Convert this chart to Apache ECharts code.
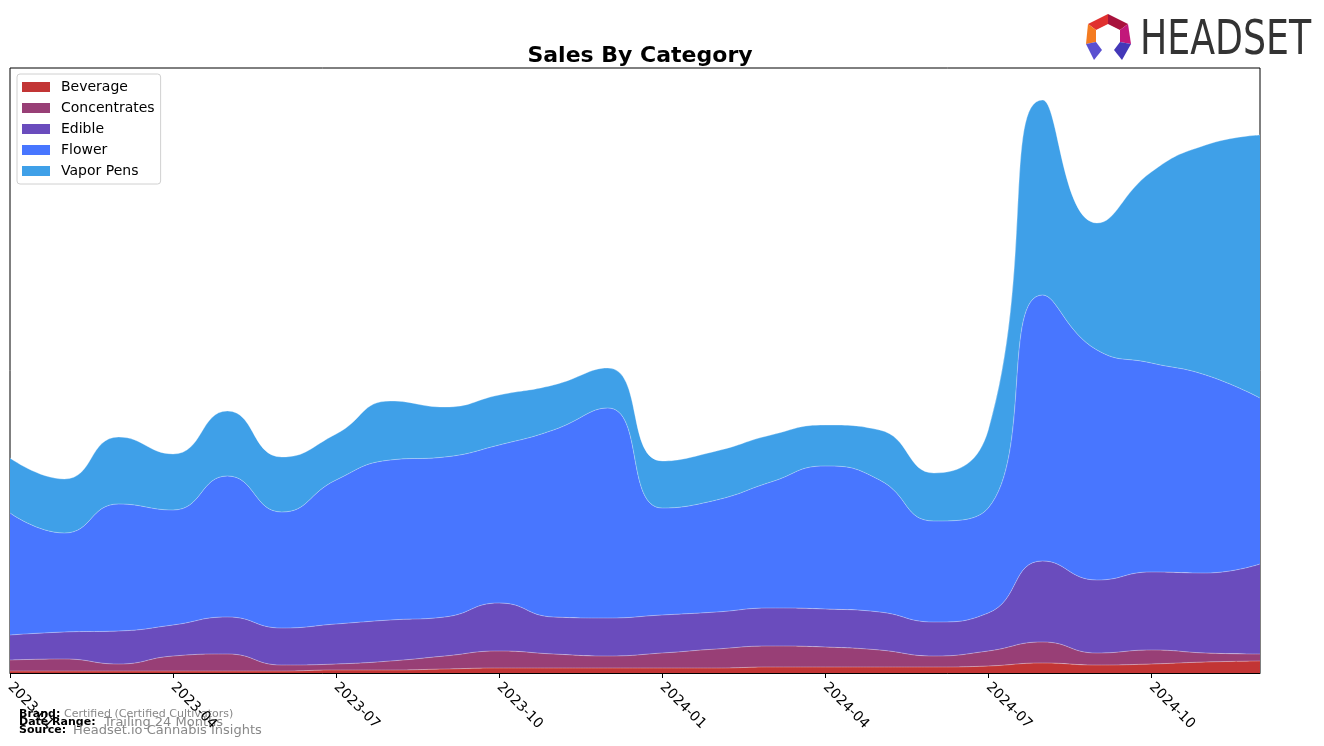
<!DOCTYPE html>
<html>
<head>
<meta charset="utf-8">
<script src="https://cdn.jsdelivr.net/npm/echarts@6/dist/echarts.min.js"></script>
<style>
html,body{margin:0;padding:0;background:#fff;}
#chart{width:1324px;height:746px;}
</style>
</head>
<body>
<div id="chart"></div>
<script>
const months = ['2023-01','2023-02','2023-03','2023-04','2023-05','2023-06','2023-07','2023-08','2023-09','2023-10','2023-11','2023-12',
                '2024-01','2024-02','2024-03','2024-04','2024-05','2024-06','2024-07','2024-08','2024-09','2024-10','2024-11','2024-12'];
const tickLabels = ['2023-01','2023-04','2023-07','2023-10','2024-01','2024-04','2024-07','2024-10'];
const categories = ['Beverage','Concentrates','Edible','Flower','Vapor Pens'];
const beverage     = [2,2,2,2,2,2,3,3,4,5,5,5,5,5,6,6,6,6,7,10,8,9,11,12];
const concentrates = [11,12,7,15,17,6,6,9,13,17,14,12,15,19,21,20,17,11,15,21,12,14,9,7];
const edible       = [25,27,33,31,37,37,40,41,39,48,37,38,38,37,38,38,38,34,38,81,73,78,80,90];
const flower       = [122,99,127,115,141,116,144,160,160,158,187,210,107,112,126,143,132,101,105,266,230,209,198,166];
const vaporPens    = [55,54,67,56,65,55,46,59,50,50,45,40,47,49,47,41,50,48,78,195,127,191,230,263];
const colors = ['#c23535','#983f76','#6a4cbd','#4876ff','#3fa0e8'];

const seriesData = [beverage, concentrates, edible, flower, vaporPens];

const chart = echarts.init(document.getElementById('chart'), null, {renderer:'canvas'});
const option = {
  animation:false,
  backgroundColor:'#fff',
  title:{
    text:'Sales By Category', left:635, top:40, textAlign:'center',
    textStyle:{fontFamily:'DejaVu Sans', fontSize:22, fontWeight:'bold', color:'#000'}
  },
  legend:{
    orient:'vertical', left:17, top:74,
    data:categories,
    icon:'rect', itemWidth:28, itemHeight:10, itemGap:7,
    backgroundColor:'#fff', borderColor:'#d0d0d0', borderWidth:1, borderRadius:3,
    padding:[6,6,6,5],
    textStyle:{fontFamily:'DejaVu Sans', fontSize:14, color:'#000', padding:[0,0,0,6]}
  },
  grid:{left:10, right:64, top:68, bottom:73, show:true, borderColor:'#000', borderWidth:1, backgroundColor:'transparent'},
  xAxis:{
    type:'category', data:months, boundaryGap:false,
    axisLine:{show:true, lineStyle:{color:'#000'}},
    axisTick:{show:true, length:5, lineStyle:{color:'#000'}, interval:(i,v)=>tickLabels.indexOf(v)>=0},
    axisLabel:{
      rotate:-45, interval:(i,v)=>tickLabels.indexOf(v)>=0, margin:12,
      fontFamily:'DejaVu Sans', fontSize:14, color:'#000'
    },
    splitLine:{show:false}
  },
  yAxis:{type:'value', min:0, max:605, show:false, splitLine:{show:false}},
  series: categories.map((name,i)=>({
    name:name, type:'line', stack:'total', smooth:0.5, symbol:'none',
    data:seriesData[i],
    itemStyle:{color:colors[i]},
    lineStyle:{width:1, color:'rgba(255,255,255,0.3)'},
    areaStyle:{color:colors[i], opacity:1}
  })),
  graphic:[
    {type:'text', left:19, top:709, style:{text:'Brand:', font:'bold 11px "DejaVu Sans"', fill:'#000'}},
    {type:'text', left:64, top:709, style:{text:'Certified (Certified Cultivators)', font:'11px "DejaVu Sans"', fill:'#888'}},
    {type:'text', left:19, top:717, style:{text:'Date Range:', font:'bold 11px "DejaVu Sans"', fill:'#000'}},
    {type:'text', left:104, top:716, style:{text:'Trailing 24 Months', font:'13px "DejaVu Sans"', fill:'#888'}},
    {type:'text', left:19, top:725, style:{text:'Source:', font:'bold 11px "DejaVu Sans"', fill:'#000'}},
    {type:'text', left:73, top:724, style:{text:'Headset.io Cannabis Insights', font:'13px "DejaVu Sans"', fill:'#888'}},
    // logo
    {type:'polygon', shape:{points:[[1088,24],[1108,14],[1108,24],[1096,30]]}, style:{fill:'#e0302f'}},
    {type:'polygon', shape:{points:[[1108,14],[1128,24],[1120,30],[1108,24]]}, style:{fill:'#a8123c'}},
    {type:'polygon', shape:{points:[[1128,24],[1131,44],[1120,42],[1120,30]]}, style:{fill:'#c2187a'}},
    {type:'polygon', shape:{points:[[1088,24],[1096,30],[1096,42],[1086,44]]}, style:{fill:'#f47b20'}},
    {type:'polygon', shape:{points:[[1086,44],[1096,42],[1102,50],[1094,60]]}, style:{fill:'#5a50d0'}},
    {type:'polygon', shape:{points:[[1131,44],[1120,42],[1114,50],[1122,60]]}, style:{fill:'#4338b8'}},
    {type:'text', x:1140, y:18, scaleX:0.84, style:{text:'HEADSET', font:'48px "Liberation Sans Narrow", "DejaVu Sans Condensed", sans-serif', fill:'#333'}}
  ]
};
chart.setOption(option);
</script>
</body>
</html>
